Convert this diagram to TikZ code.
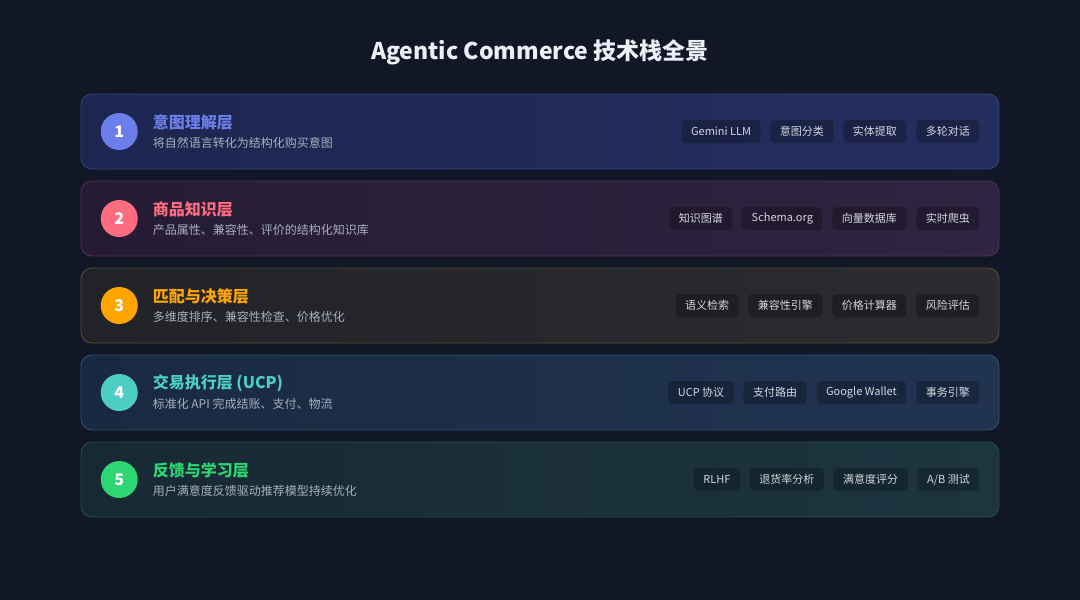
\documentclass[tikz,border=0pt]{standalone}
\usepackage{fontspec}
\setmainfont{Noto Sans CJK SC}
\usetikzlibrary{positioning}

\definecolor{bgtop}{HTML}{121726}
\definecolor{bgmid}{HTML}{171F38}
\definecolor{bgbot}{HTML}{121728}
\definecolor{headwhite}{HTML}{ECEEF8}
\definecolor{subgrey}{HTML}{A9AEBF}
\definecolor{taggrey}{HTML}{D3D6E0}
% badge and title colours
\definecolor{c1}{HTML}{6C7EE9}
\definecolor{c2}{HTML}{FF6B81}
\definecolor{c3}{HTML}{FFA502}
\definecolor{c4}{HTML}{4ECDC4}
\definecolor{c5}{HTML}{2ED573}
% card fills (left, right) and borders
\definecolor{Lc1}{HTML}{1D2650}\definecolor{Rc1}{HTML}{252F5F}\definecolor{Bc1}{HTML}{34427C}
\definecolor{Lc2}{HTML}{251C34}\definecolor{Rc2}{HTML}{2F2441}\definecolor{Bc2}{HTML}{5A2D4E}
\definecolor{Lc3}{HTML}{222328}\definecolor{Rc3}{HTML}{2B2B30}\definecolor{Bc3}{HTML}{554F2F}
\definecolor{Lc4}{HTML}{192941}\definecolor{Rc4}{HTML}{203452}\definecolor{Bc4}{HTML}{2C546E}
\definecolor{Lc5}{HTML}{172934}\definecolor{Rc5}{HTML}{1C353F}\definecolor{Bc5}{HTML}{1F5049}

\tikzset{
  card/.style={rounded corners=11pt, line width=0.9pt, minimum width=918pt,
    minimum height=75pt, inner sep=0pt},
  badge/.style={circle, minimum size=37pt, inner sep=0pt, text=white,
    font=\bfseries\fontsize{16}{16}\selectfont},
  layertitle/.style={anchor=west, inner sep=0pt, font=\bfseries\fontsize{16}{18}\selectfont},
  layersub/.style={anchor=west, inner sep=0pt, text=subgrey, font=\fontsize{12}{14}\selectfont},
  tag/.style={rounded corners=4pt, fill=black, fill opacity=0.24, text opacity=1,
    text=taggrey, font=\fontsize{11}{13}\selectfont, inner xsep=9.5pt, inner ysep=0pt,
    minimum height=23pt},
}

\begin{document}
\begin{tikzpicture}[x=1pt, y=-1pt]
    \useasboundingbox (0,0) rectangle (1080,600);
    \shade[top color=bgtop, middle color=bgmid, bottom color=bgbot] (0,0) rectangle (1080,600);

    \node[text=headwhite, font=\bfseries\fontsize{23}{27}\selectfont] (head) at (540,52)
        {Agentic Commerce 技术栈全景};

    \foreach \i/\y/\name/\desc in {
        1/131.5/意图理解层/将自然语言转化为结构化购买意图,
        2/218.5/商品知识层/产品属性、兼容性、评价的结构化知识库,
        3/305.5/匹配与决策层/多维度排序、兼容性检查、价格优化,
        4/392.5/交易执行层 (UCP)/标准化 API 完成结账、支付、物流,
        5/479.5/反馈与学习层/用户满意度反馈驱动推荐模型持续优化}
    {
        \node[card, draw=Bc\i, left color=Lc\i, right color=Rc\i] (card\i) at (540,\y) {};
        \node[badge, fill=c\i, right=20pt of card\i.west] (badge\i) {\i};
        \node[layertitle, text=c\i] (title\i) at ([xshift=72pt, yshift=9.5pt]card\i.west) {\name};
        \node[layersub] (sub\i) at ([xshift=72pt, yshift=-11.5pt]card\i.west) {\desc};
    }

    \node[tag, left=20pt of card1.east] (t14) {多轮对话};
    \node[tag, left=9.5pt of t14] (t13) {实体提取};
    \node[tag, left=9.5pt of t13] (t12) {意图分类};
    \node[tag, left=9.5pt of t12] (t11) {Gemini LLM};

    \node[tag, left=20pt of card2.east] (t24) {实时爬虫};
    \node[tag, left=9.5pt of t24] (t23) {向量数据库};
    \node[tag, left=9.5pt of t23] (t22) {Schema.org};
    \node[tag, left=9.5pt of t22] (t21) {知识图谱};

    \node[tag, left=20pt of card3.east] (t34) {风险评估};
    \node[tag, left=9.5pt of t34] (t33) {价格计算器};
    \node[tag, left=9.5pt of t33] (t32) {兼容性引擎};
    \node[tag, left=9.5pt of t32] (t31) {语义检索};

    \node[tag, left=20pt of card4.east] (t44) {事务引擎};
    \node[tag, left=9.5pt of t44] (t43) {Google Wallet};
    \node[tag, left=9.5pt of t43] (t42) {支付路由};
    \node[tag, left=9.5pt of t42] (t41) {UCP 协议};

    \node[tag, left=20pt of card5.east] (t54) {A/B 测试};
    \node[tag, left=9.5pt of t54] (t53) {满意度评分};
    \node[tag, left=9.5pt of t53] (t52) {退货率分析};
    \node[tag, left=9.5pt of t52] (t51) {RLHF};
\end{tikzpicture}
\end{document}
